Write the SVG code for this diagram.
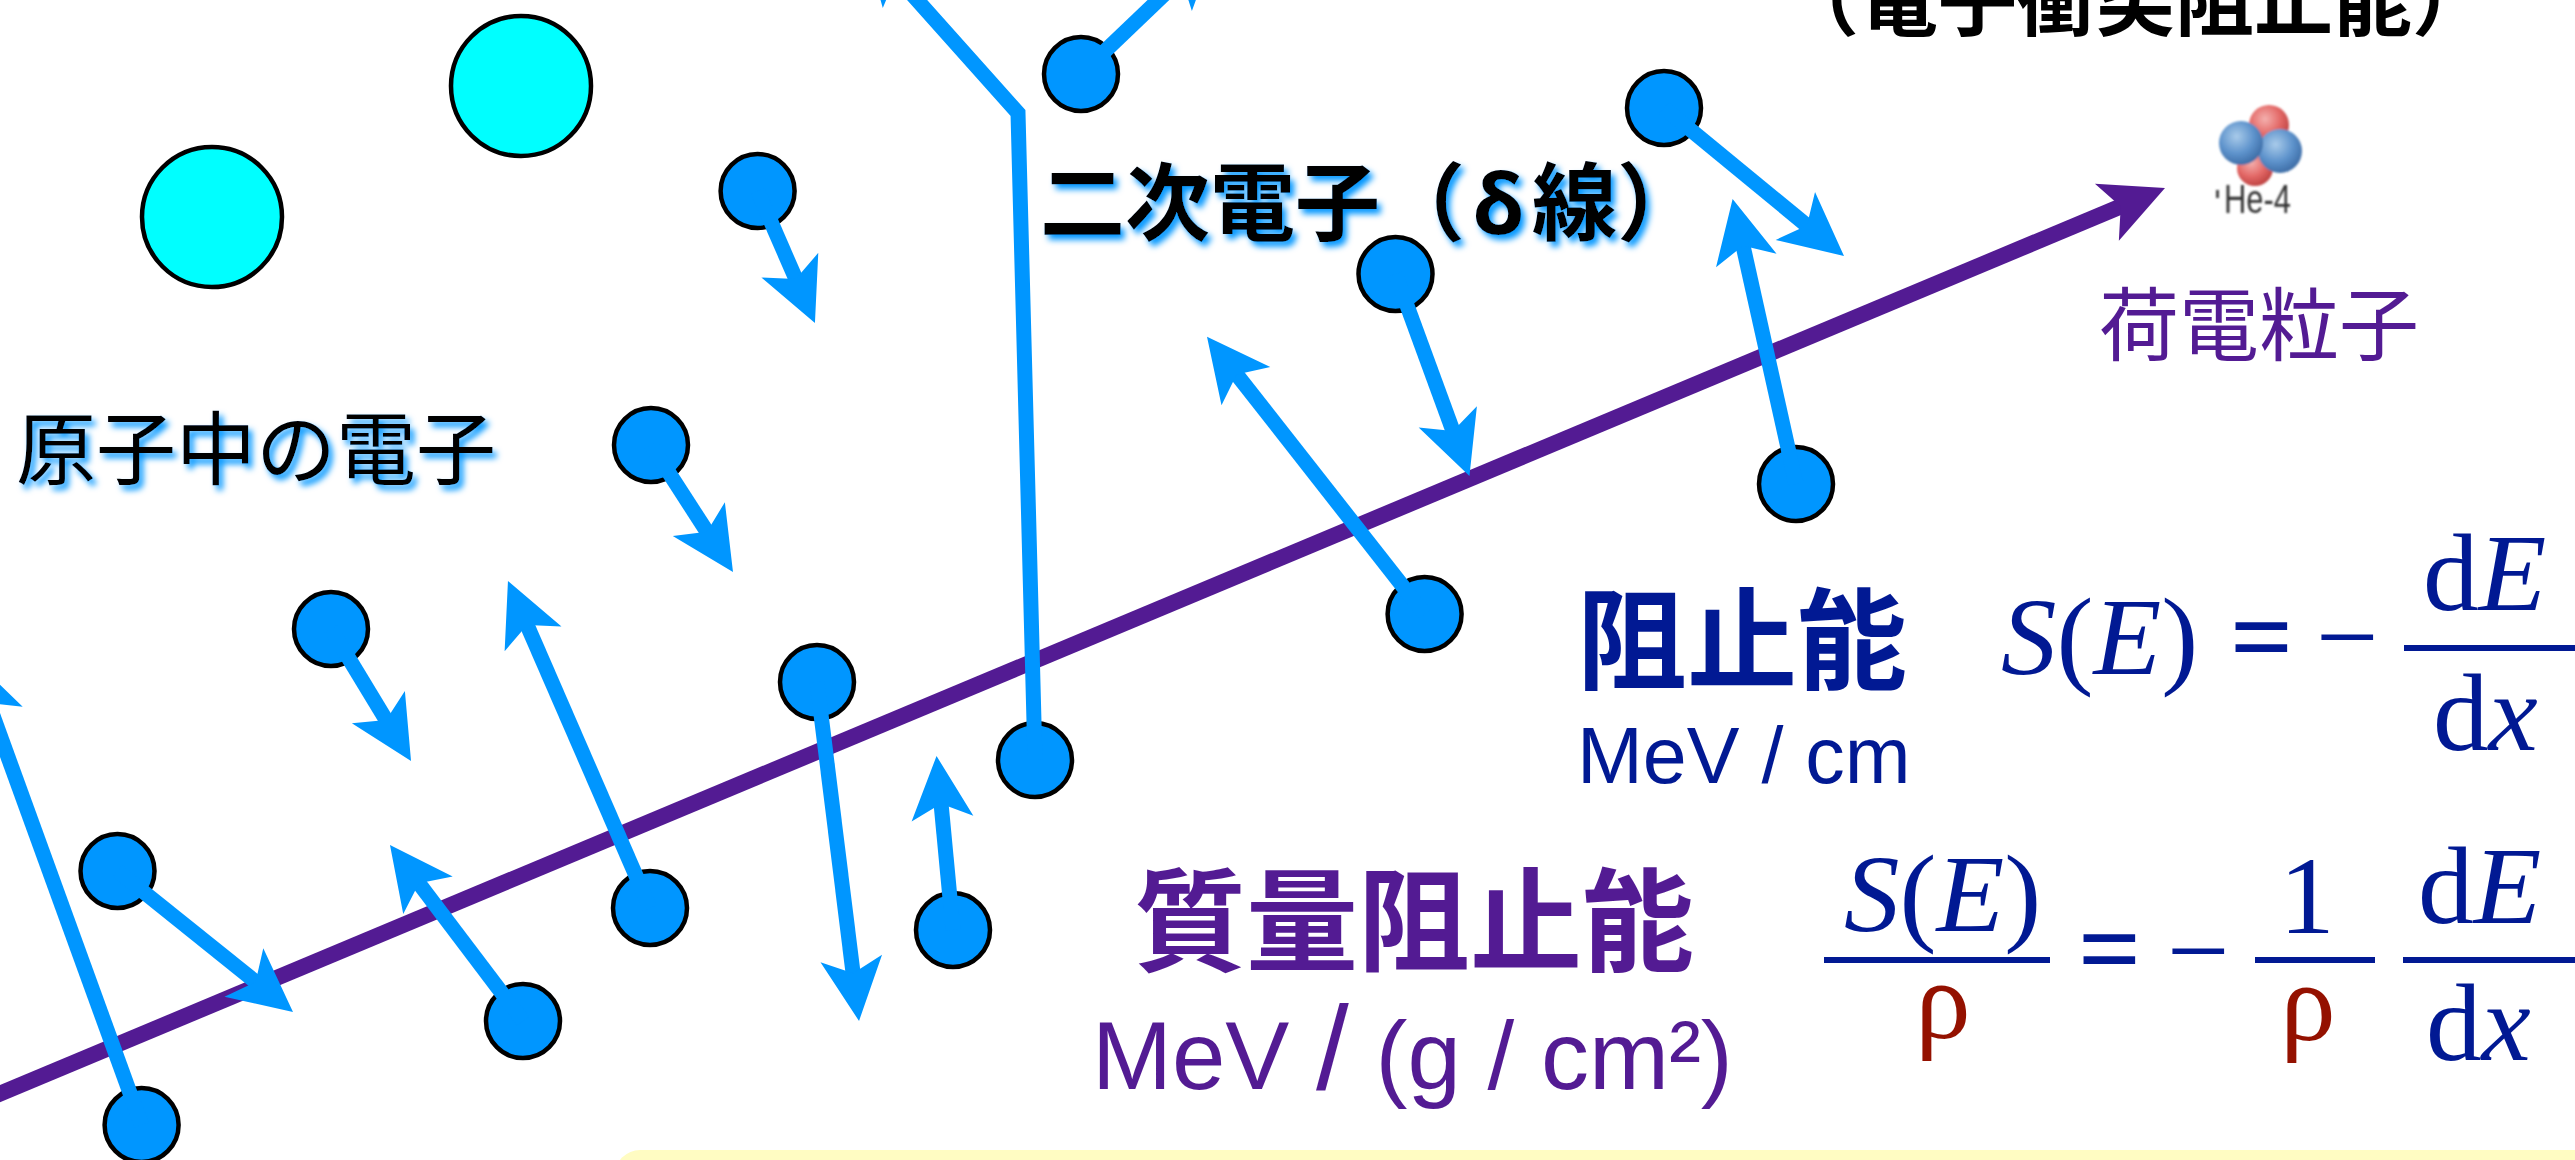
<svg xmlns="http://www.w3.org/2000/svg" width="2575" height="1160" viewBox="0 0 2575 1160">
  <defs>
    <style>
      .atom { fill: #00FFFF; stroke: #000; stroke-width: 4.5; }
      .e { fill: #0096FF; stroke: #000; stroke-width: 4.5; }
      .ray { fill: none; stroke: #0096FF; stroke-width: 15; stroke-linejoin: miter; marker-end: url(#head-blue); }
      .track { fill: none; stroke: #531B93; stroke-width: 16; marker-end: url(#head-purple); }
      .jp { font-family: "Noto Sans CJK JP", sans-serif; }
      .sans { font-family: "Liberation Sans", Arial, sans-serif; }
      .math { font-family: "Liberation Serif", "Times New Roman", serif; font-size: 111px; fill: #011993; }
      .it { font-style: italic; }
      .rho { fill: #941100; }
      .bar { stroke: #011993; stroke-width: 6; }
    </style>
    <marker id="head-blue" viewBox="-66 -34 70 68" markerWidth="70" markerHeight="68" refX="-40" refY="0" orient="auto" markerUnits="userSpaceOnUse">
      <path d="M0,0 L-63,-31 L-48,0 L-63,31 Z" fill="#0096FF"/>
    </marker>
    <marker id="head-purple" viewBox="-66 -34 70 68" markerWidth="70" markerHeight="68" refX="-40" refY="0" orient="auto" markerUnits="userSpaceOnUse">
      <path d="M0,0 L-63,-31 L-48,0 L-63,31 Z" fill="#531B93"/>
    </marker>
    <filter id="glow" x="-5%" y="-20%" width="115%" height="150%">
      <feGaussianBlur in="SourceAlpha" stdDeviation="3"/>
      <feOffset dx="4" dy="5" result="b"/>
      <feFlood flood-color="#0096FF"/>
      <feComposite in2="b" operator="in"/>
      <feMerge><feMergeNode/><feMergeNode in="SourceGraphic"/></feMerge>
    </filter>
    <filter id="soft" x="-10%" y="-10%" width="120%" height="120%">
      <feGaussianBlur stdDeviation="0.8"/>
    </filter>
    <radialGradient id="ball-blue" cx="0.4" cy="0.35" r="0.65">
      <stop offset="0" stop-color="#A9CBEA"/>
      <stop offset="0.6" stop-color="#5E93CC"/>
      <stop offset="1" stop-color="#3F6FA8"/>
    </radialGradient>
    <radialGradient id="ball-red" cx="0.4" cy="0.35" r="0.65">
      <stop offset="0" stop-color="#F4B0AE"/>
      <stop offset="0.6" stop-color="#E36866"/>
      <stop offset="1" stop-color="#C04544"/>
    </radialGradient>
  </defs>

  <rect width="2575" height="1160" fill="#FFFFFF"/>

  <!-- note panel peeking in at the bottom -->
  <rect x="615" y="1150" width="2000" height="80" rx="25" fill="#FFFCC2"/>

  <!-- atoms -->
  <g id="atom-1"><circle class="atom" cx="521" cy="86" r="70"/></g>
  <g id="atom-2"><circle class="atom" cx="212" cy="217" r="70"/></g>

  <!-- atomic electrons -->
  <g id="electron-a"><circle class="e" cx="331" cy="629" r="37"/></g>
  <g id="electron-b"><circle class="e" cx="117.5" cy="871" r="37"/></g>
  <g id="electron-c"><circle class="e" cx="523" cy="1021" r="37"/></g>
  <g id="electron-d"><circle class="e" cx="141.6" cy="1125" r="37"/></g>
  <g id="electron-e"><circle class="e" cx="650" cy="908" r="37"/></g>
  <g id="electron-f"><circle class="e" cx="817" cy="682" r="37"/></g>
  <g id="electron-g"><circle class="e" cx="1035" cy="760" r="37"/></g>
  <g id="electron-h"><circle class="e" cx="953" cy="930" r="37"/></g>
  <g id="electron-i"><circle class="e" cx="757.6" cy="191" r="37"/></g>
  <g id="electron-j"><circle class="e" cx="651" cy="445" r="37"/></g>
  <g id="electron-k"><circle class="e" cx="1081" cy="74" r="37"/></g>
  <g id="electron-l"><circle class="e" cx="1664" cy="108" r="37"/></g>
  <g id="electron-m"><circle class="e" cx="1395.5" cy="274" r="37"/></g>
  <g id="electron-n"><circle class="e" cx="1424.6" cy="614" r="37"/></g>
  <g id="electron-o"><circle class="e" cx="1796" cy="484" r="37"/></g>

  <!-- charged particle track and electron recoil arrows -->
  <g id="connectors">
    <path class="track" d="M-20,1102 L2128.1,203.4"/>
    <path class="ray" d="M331,629 L390.3,726.8"/>
    <path class="ray" d="M117.5,871 L261.8,986.9"/>
    <path class="ray" d="M523,1021 L414.1,876.9"/>
    <path class="ray" d="M141.6,1125 L-14.3,695.6"/>
    <path class="ray" d="M650,908 L523.9,617.7"/>
    <path class="ray" d="M817,682 L854.1,981.3"/>
    <path class="ray" d="M1035,760 L1018,113 L890.6,-29.7"/>
    <path class="ray" d="M953,930 L940.3,795.8"/>
    <path class="ray" d="M757.6,191 L799,286.3"/>
    <path class="ray" d="M651,445 L711.3,538.4"/>
    <path class="ray" d="M1081,74 L1187.1,-27.4"/>
    <path class="ray" d="M1664,108 L1813.1,230.6"/>
    <path class="ray" d="M1395.5,274 L1455.7,438.4"/>
    <path class="ray" d="M1424.6,614 L1231.7,368.1"/>
    <path class="ray" d="M1796,484 L1741.3,238"/>
  </g>

  <!-- helium-4 nucleus icon -->
  <g id="he4" filter="url(#soft)">
    <circle cx="2255" cy="168" r="18" fill="url(#ball-red)"/>
    <circle cx="2269" cy="125" r="20" fill="url(#ball-red)"/>
    <circle cx="2280" cy="151" r="22" fill="url(#ball-blue)"/>
    <circle cx="2241" cy="143" r="22" fill="url(#ball-blue)"/>
    <rect x="2216" y="190" width="3" height="8" fill="#444"/>
    <text class="sans" x="2224" y="213" font-size="40" textLength="67" lengthAdjust="spacingAndGlyphs" fill="#333">He-4</text>
  </g>

  <!-- labels -->
  <g id="labels">
    <text class="jp" x="1780" y="30" font-size="79" font-weight="700" fill="#000">（電子衝突阻止能）</text>
    <text class="jp" x="16" y="478" font-size="80" fill="#000" filter="url(#glow)">原子中の電子</text>
    <text class="jp" y="234" font-size="85" font-weight="700" fill="#000" filter="url(#glow)"><tspan x="1040">二次電子（</tspan><tspan x="1473" font-family="'Noto Sans', 'Noto Sans CJK JP', sans-serif">δ</tspan><tspan x="1532">線）</tspan></text>
    <text class="jp" x="2099" y="354" font-size="80" fill="#531B93">荷電粒子</text>

    <text class="jp" x="1577" y="681" font-size="110" font-weight="700" fill="#011993">阻止能</text>
    <text class="sans" x="1577" y="783" font-size="79" fill="#011993">MeV / cm</text>

    <text class="jp" x="1134" y="963" font-size="112" font-weight="700" fill="#531B93">質量阻止能</text>
    <text class="sans" x="1092" y="1089" font-size="96" fill="#531B93">MeV <tspan font-size="118">/</tspan> (g / cm²)</text>
  </g>

  <!-- stopping power: S(E) = -dE/dx -->
  <g id="formula-s">
    <text class="math" x="2001" y="674"><tspan class="it">S</tspan>(<tspan class="it">E</tspan>)</text>
    <text class="math" x="2230" y="674" font-weight="700">=</text>
    <text class="math" x="2316" y="674">−</text>
    <line class="bar" x1="2404" y1="648" x2="2580" y2="648"/>
    <text class="math" x="2423" y="610">d<tspan class="it">E</tspan></text>
    <text class="math" x="2433" y="750">d<tspan class="it">x</tspan></text>
  </g>

  <!-- mass stopping power: S(E)/rho = -(1/rho) dE/dx -->
  <g id="formula-mass">
    <text class="math" x="1844" y="931"><tspan class="it">S</tspan>(<tspan class="it">E</tspan>)</text>
    <line class="bar" x1="1824" y1="960" x2="2050" y2="960"/>
    <text class="math rho" x="1943" y="1038" text-anchor="middle">ρ</text>
    <text class="math" x="2078" y="986" font-weight="700">=</text>
    <text class="math" x="2167" y="988">−</text>
    <text class="math" x="2307" y="933" text-anchor="middle">1</text>
    <line class="bar" x1="2255" y1="960" x2="2375" y2="960"/>
    <text class="math rho" x="2308" y="1040" text-anchor="middle">ρ</text>
    <line class="bar" x1="2403" y1="960" x2="2580" y2="960"/>
    <text class="math" x="2418" y="923">d<tspan class="it">E</tspan></text>
    <text class="math" x="2426" y="1060">d<tspan class="it">x</tspan></text>
  </g>
</svg>
